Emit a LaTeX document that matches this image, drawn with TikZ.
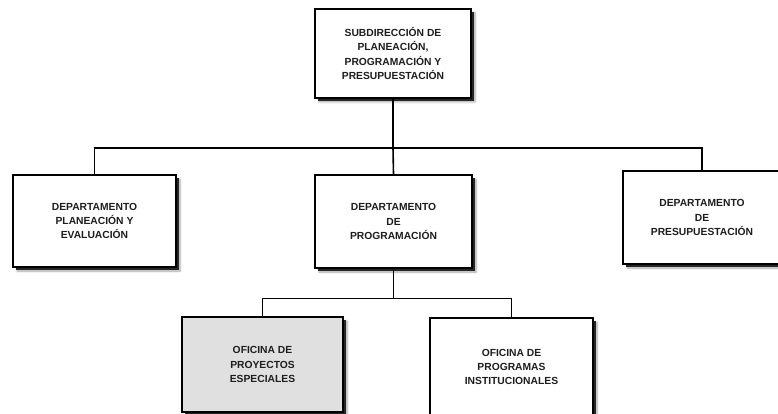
\documentclass[tikz,border=0pt]{standalone}
\usepackage{fontspec}
\setmainfont{Liberation Sans}
\usepackage{tikz}
\usetikzlibrary{shadows,shadows.blur}
\definecolor{cBox}{HTML}{FFFFFF}
\definecolor{cBoxG}{HTML}{E0E0E0}
\definecolor{cTxt}{HTML}{1E1E1E}
\tikzset{
  obox/.style={draw, line width=2pt, fill=cBox, align=center, inner sep=2pt,
               font=\bfseries\fontsize{10.3}{14.2}\selectfont, text=cTxt,
               minimum width=#1, 
               blur shadow={shadow xshift=4pt, shadow yshift=-4pt, shadow blur steps=6, shadow opacity=35},
               drop shadow={shadow xshift=2.6pt, shadow yshift=-2.6pt, fill=black!85, opacity=1}},
  oline/.style={line width=1.6pt, draw=black},
}

\begin{document}
\begin{tikzpicture}[x=1pt, y=-1pt]
\useasboundingbox (0,0) rectangle (778,414);
\clip (0,0) rectangle (778,414);
% ---- top
\node[obox=156pt, minimum height=89pt] (sub) at (393,53.5)
  {SUBDIRECCIÓN DE\\PLANEACIÓN,\\PROGRAMACIÓN Y\\PRESUPUESTACIÓN};
% ---- departments
\node[obox=163pt, minimum height=92pt] (dpe) at (94.5,221)
  {DEPARTAMENTO\\PLANEACIÓN Y\\EVALUACIÓN};
\node[obox=157pt, minimum height=93pt] (dpg) at (393.5,221.5)
  {DEPARTAMENTO\\DE\\PROGRAMACIÓN};
\node[obox=158pt, minimum height=93pt] (dpr) at (702,217.5)
  {DEPARTAMENTO\\DE\\PRESUPUESTACIÓN};
% ---- offices
\node[obox=161pt, minimum height=95pt, fill=cBoxG] (ope) at (262.5,364.5)
  {OFICINA DE\\PROYECTOS\\ESPECIALES};
\node[obox=163pt, minimum height=98pt] (opi) at (511.5,367)
  {OFICINA DE\\PROGRAMAS\\INSTITUCIONALES};
% connectors
\draw[oline] (sub.south) -- ++(0,49) coordinate (j1);
\draw[oline] (dpe.north) |- (j1) -| (dpr.north);
\draw[oline] (j1) -- (dpg.north);
\draw[oline] (dpg.south) -- ++(0,29.5) coordinate (j2);
\draw[oline] (ope.north) |- (j2) -| (opi.north);
\end{tikzpicture}
\end{document}
